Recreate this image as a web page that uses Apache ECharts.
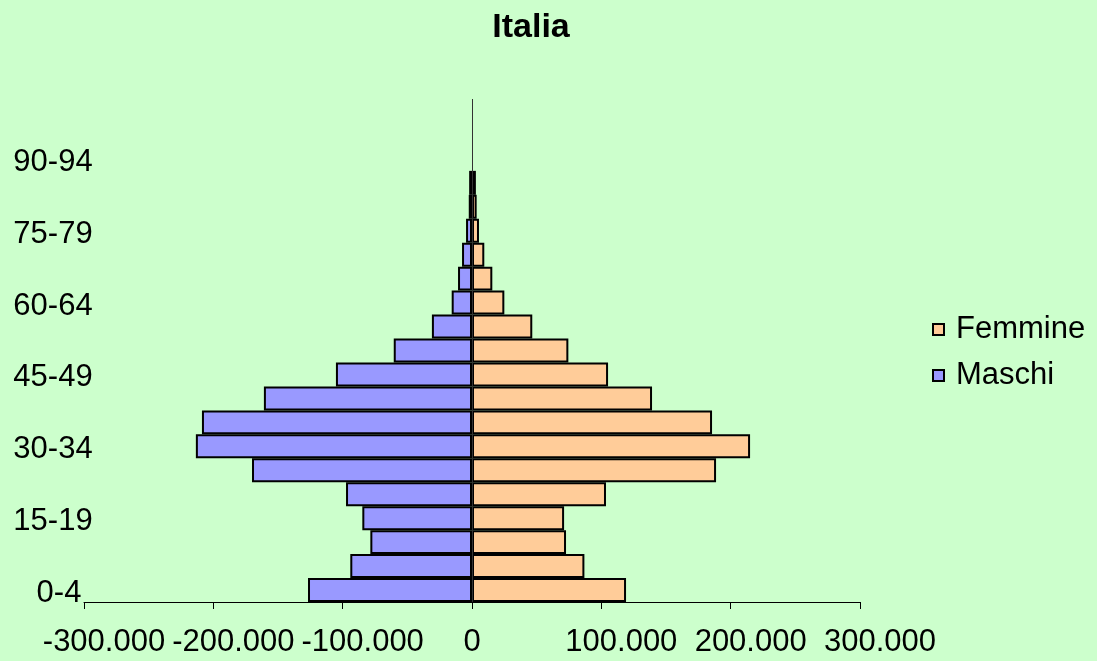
<!DOCTYPE html>
<html>
<head>
<meta charset="utf-8">
<script src="https://cdn.jsdelivr.net/npm/echarts@6/dist/echarts.min.js"></script>
<style>
html,body{margin:0;padding:0;background:#CCFFCC;}
#chart{width:1097px;height:661px;}
</style>
</head>
<body>
<div id="chart"></div>
<script>
const categories = ['0-4','5-9','10-14','15-19','20-24','25-29','30-34','35-39','40-44','45-49','50-54','55-59','60-64','65-69','70-74','75-79','80-84','85-89','90-94','95-99','100+'];
const maschi = [-126800,-94100,-78600,-84800,-97400,-170100,-213500,-208800,-160900,-105200,-60500,-31000,-15700,-10800,-7700,-4600,-2500,-2200,null,null,null];
const femmine = [119100,86900,72700,71200,103600,188700,215000,185600,139200,105200,74500,46600,25000,15700,9500,5400,3600,3000,null,null,null];
const xTicks = {min:-300000, max:300000, interval:100000};

function fmt(v){
  const s = Math.abs(v).toString().replace(/\B(?=(\d{3})+(?!\d))/g, '.');
  return (v < 0 ? '-' : '') + s;
}

const chart = echarts.init(document.getElementById('chart'));
const font = 'Liberation Sans, Arial, sans-serif';
chart.setOption({
  backgroundColor: '#CCFFCC',
  animation: false,
  title: {
    text: 'Italia', left: 531, top: 11, textAlign: 'center', padding: 0,
    textStyle: {fontFamily: font, fontSize: 34, fontWeight: 'bold', color: '#000'}
  },
  legend: {
    orient: 'vertical', left: 932, top: 314, padding: 0, itemGap: 15,
    itemWidth: 11, itemHeight: 11, icon: 'rect',
    data: ['Femmine', 'Maschi'],
    textStyle: {fontFamily: font, fontSize: 31, color: '#000', padding: [0,0,0,7]}
  },
  grid: {left: 84, right: 237, top: 99, bottom: 59, containLabel: false},
  xAxis: {
    type: 'value', min: xTicks.min, max: xTicks.max, interval: xTicks.interval,
    splitLine: {show: false},
    axisLine: {show: true, onZero: false, lineStyle: {color: '#000', width: 1}},
    axisTick: {show: true, length: 7, lineStyle: {color: '#000'}},
    axisLabel: {
      margin: 25, color: '#000', fontFamily: font, fontSize: 31,
      formatter: function(v){ return v === 0 ? '0' : '{n|' + fmt(v) + '}'; },
      rich: {n: {fontFamily: font, fontSize: 31, color: '#000', padding: [0,0,0,40]}}
    }
  },
  yAxis: {
    type: 'category', data: categories,
    axisLine: {show: false, onZero: false},
    axisTick: {show: false},
    splitLine: {show: false},
    axisLabel: {
      interval: 2, margin: 31, align: 'center', color: '#000', fontFamily: font, fontSize: 31,
      padding: [7,0,0,0],
      formatter: function(v){ return v === '0-4' ? '{s|0-4}' : v; },
      rich: {s: {fontFamily: font, fontSize: 31, color: '#000', padding: [0,0,0,12]}}
    }
  },
  series: [
    {
      name: 'Femmine', type: 'bar', data: femmine, barGap: '-100%', barCategoryGap: 0,
      itemStyle: {color: '#FFCC99', borderColor: '#000', borderWidth: 2},
      markLine: {
        silent: true, symbol: 'none', label: {show: false},
        lineStyle: {color: '#333', width: 1, type: 'solid'},
        data: [{xAxis: 0}]
      }
    },
    {
      name: 'Maschi', type: 'bar', data: maschi, barCategoryGap: 0,
      itemStyle: {color: '#9999FF', borderColor: '#000', borderWidth: 2}
    }
  ]
});
</script>
</body>
</html>
